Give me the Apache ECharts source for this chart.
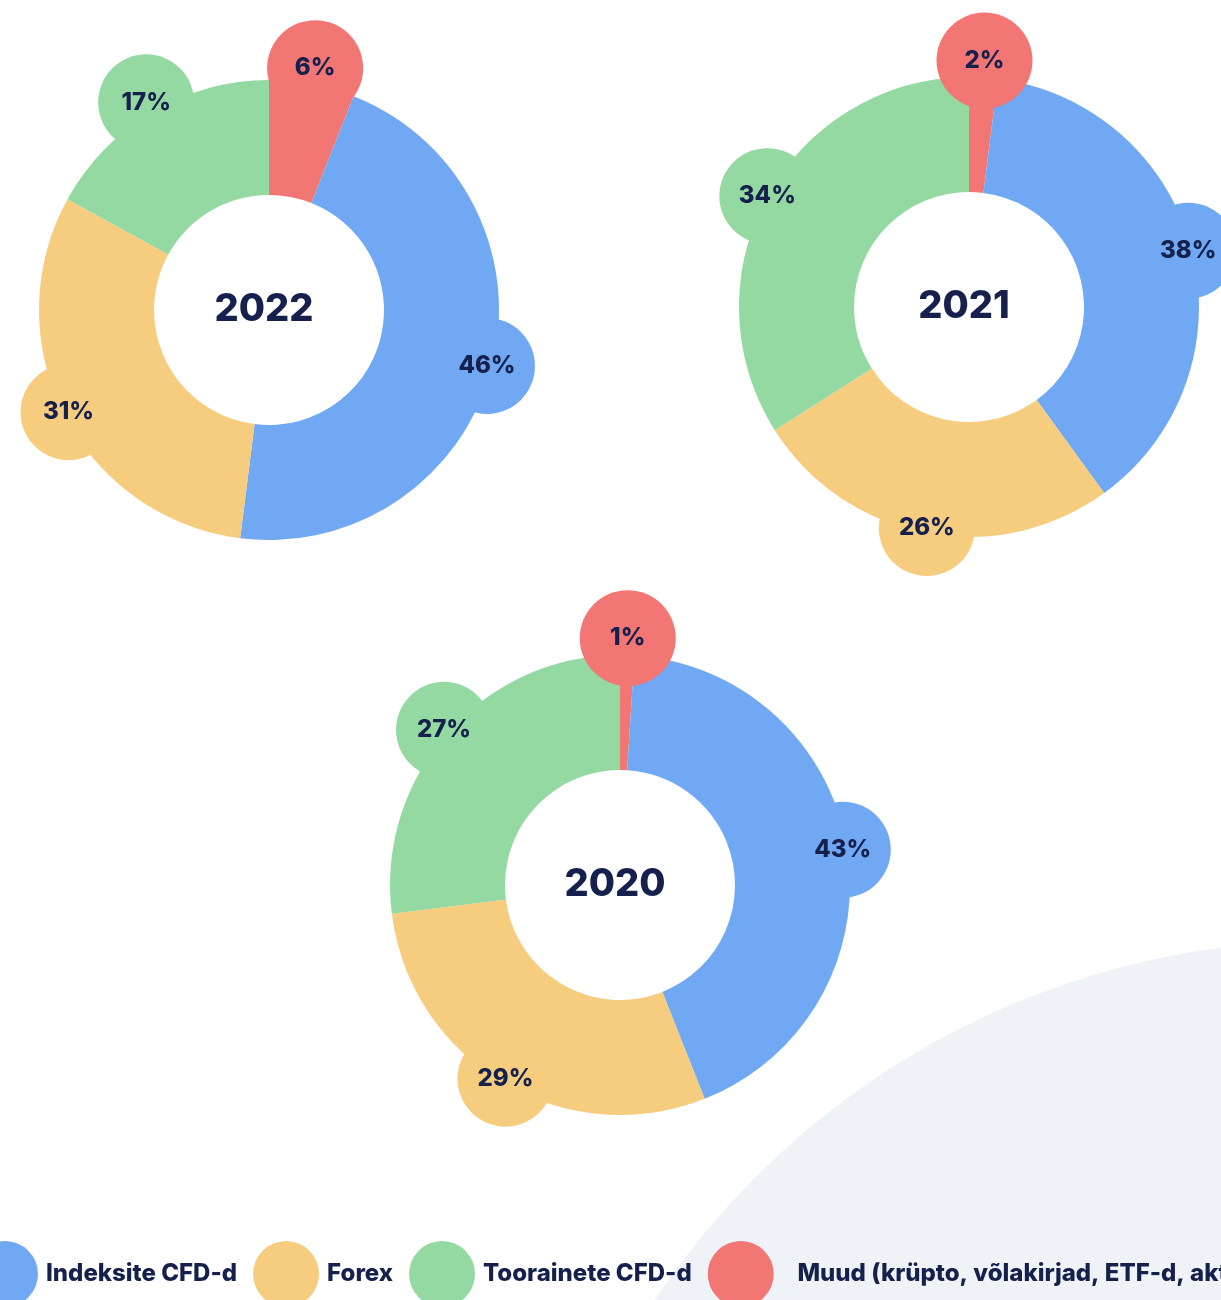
<!DOCTYPE html>
<html>
<head>
<meta charset="utf-8">
<script src="https://cdn.jsdelivr.net/npm/echarts@6/dist/echarts.min.js"></script>
<style>
  html, body { margin: 0; padding: 0; background: #fff; }
  #box1 { width: 1221px; height: 1300px; }
</style>
</head>
<body>
<div id="box1"></div>
<script>
var myChart = echarts.init(document.getElementById('box1'))

// categories in legend order
let names = ['Indeksite CFD-d', 'Forex', 'Toorainete CFD-d', 'Muud (krüpto, võlakirjad, ETF-d, aktsiad)'];
let colors = ['#70a8f3', '#f6cd7f', '#94d9a1', '#f27674'];
let years = ['2022', '2021', '2020'];
// shares per year, same order as names
let share2022 = [46, 31, 17, 6];
let share2021 = [38, 26, 34, 2];
let share2020 = [43, 29, 27, 1];
let shares = [share2022, share2021, share2020];

// ring starts at 12 o'clock with "Muud", then the rest clockwise
let sliceOrder = [3, 0, 1, 2];
let centers = [[269, 310], [969, 307], [620, 885]];
let textColor = '#15204d';

let series = [];
let polar = [];
let angleAxis = [];
let radiusAxis = [];
let title = [];

years.forEach(function (year, i) {
    let vals = shares[i];
    let total = vals.reduce(function (a, b) { return a + b; }, 0);
    let pieData = sliceOrder.map(function (k) {
        return { name: names[k], value: vals[k], itemStyle: { color: colors[k] } };
    });
    series.push({
        type: 'pie',
        center: centers[i],
        radius: [115, 230],
        startAngle: 90,
        clockwise: true,
        label: { show: false },
        labelLine: { show: false },
        emphasis: { scale: false },
        data: pieData
    });

    // bubbles at the middle of each slice, pushed a bit further out near the top
    let cum = 0;
    let bubbles = [];
    sliceOrder.forEach(function (k) {
        let mid = (cum + vals[k] / 2) / total * 100;
        cum += vals[k];
        let up = Math.max(0, Math.cos(mid / 100 * 2 * Math.PI));
        let dist = 225 + 22 * up * up;
        bubbles.push({ value: [dist, mid], pct: vals[k], itemStyle: { color: colors[k], opacity: 1 } });
    });
    polar.push({ center: centers[i], radius: 260 });
    angleAxis.push({ polarIndex: i, type: 'value', min: 0, max: 100, startAngle: 90, show: false });
    radiusAxis.push({ polarIndex: i, type: 'value', min: 0, max: 260, show: false });
    series.push({
        type: 'scatter',
        coordinateSystem: 'polar',
        polarIndex: i,
        symbol: 'circle',
        symbolSize: 96,
        z: 3,
        itemStyle: { opacity: 1 },
        label: {
            show: true,
            position: 'inside',
            formatter: function (p) { return p.data.pct + '%'; },
            color: textColor,
            fontFamily: 'Inter',
            fontWeight: 800,
            fontSize: 24
        },
        emphasis: { scale: false },
        data: bubbles
    });

    title.push({
        text: year,
        left: centers[i][0] - 5,
        top: centers[i][1],
        padding: 0,
        textAlign: 'center',
        textVerticalAlign: 'middle',
        textStyle: { color: textColor, fontFamily: 'Inter', fontWeight: 800, fontSize: 38 }
    });
});

option = {
    animation: false,
    title: title,
    graphic: [
        {
            type: 'circle',
            z: 0,
            silent: true,
            shape: { cx: 1325, cy: 1746, r: 805 },
            style: { fill: '#eff2f7' }
        }
    ],
    legend: {
        data: names,
        left: -33,
        top: 1236,
        width: 1800,
        icon: 'circle',
        itemWidth: 66,
        itemHeight: 66,
        itemGap: 16,
        textStyle: { color: textColor, fontFamily: 'Inter', fontWeight: 800, fontSize: 24, padding: [0, 0, 0, 3] },
        formatter: function (name) {
            return name === names[3] ? '   ' + name : name;
        }
    },
    polar: polar,
    angleAxis: angleAxis,
    radiusAxis: radiusAxis,
    series: series
};
myChart.setOption(option);
</script>
</body>
</html>
